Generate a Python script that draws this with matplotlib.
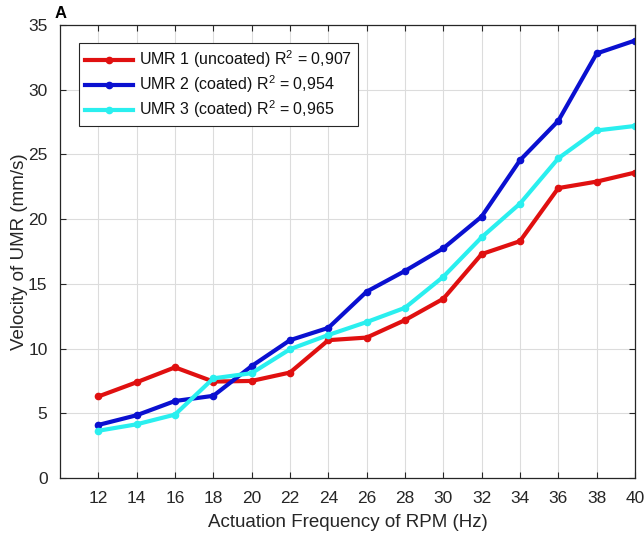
import matplotlib
matplotlib.use("Agg")
import matplotlib.pyplot as plt

freq = [12, 14, 16, 18, 20, 22, 24, 26, 28, 30, 32, 34, 36, 38, 40]
umr1 = [6.3, 7.4, 8.55, 7.45, 7.5, 8.15, 10.65, 10.85, 12.2, 13.85, 17.3, 18.3, 22.4, 22.9, 23.6]
umr2 = [4.1, 4.85, 5.95, 6.35, 8.65, 10.65, 11.6, 14.4, 16.0, 17.75, 20.2, 24.55, 27.6, 32.8, 33.8]
umr3 = [3.65, 4.15, 4.9, 7.7, 8.1, 9.95, 11.05, 12.05, 13.15, 15.55, 18.6, 21.2, 24.7, 26.85, 27.2]
labels = ["UMR 1 (uncoated) R$^2$ = 0,907",
          "UMR 2 (coated) R$^2$ = 0,954",
          "UMR 3 (coated) R$^2$ = 0,965"]
colors = ["#e01010", "#0a10d0", "#2aefef"]
xticks = list(range(12, 41, 2))
yticks = list(range(0, 36, 5))

plt.rcParams['font.family'] = ['Liberation Sans', 'DejaVu Sans']
plt.rcParams['mathtext.fontset'] = 'custom'
plt.rcParams['mathtext.rm'] = 'Liberation Sans'
plt.rcParams['mathtext.it'] = 'Liberation Sans'

fig = plt.figure(figsize=(6.44, 5.4), dpi=100)
ax = fig.add_axes([0.0932, 0.1148, 0.8928, 0.8389])
txtc = "#262626"
for y, lab, c in zip([umr1, umr2, umr3], labels, colors):
    ax.plot(freq, y, color=c, lw=3, marker='o', ms=4.5, label=lab)

ax.set_xlim(10, 40)
ax.set_ylim(0, 35)
ax.set_xticks(xticks)
ax.set_yticks(yticks)
ax.grid(True, color="#dcdcdc", lw=0.8)
ax.set_axisbelow(True)
ax.tick_params(direction='in', top=True, right=True, length=4, width=0.8,
               labelsize=12.5, colors=txtc, pad=9)
for s in ax.spines.values():
    s.set_color(txtc)
    s.set_linewidth(0.9)
ax.set_xlabel("Actuation Frequency of RPM (Hz)", fontsize=13.5, color=txtc, labelpad=6)
ax.set_ylabel("Velocity of UMR (mm/s)", fontsize=13.5, color=txtc, labelpad=0)

leg = ax.legend(loc='upper left', bbox_to_anchor=(0.033, 0.96), fontsize=11.5,
                frameon=True, fancybox=False, handlelength=3.0, handletextpad=0.4,
                borderpad=0.35, labelspacing=0.2, borderaxespad=0)
leg.get_frame().set_edgecolor(txtc)
leg.get_frame().set_linewidth(0.8)
leg.get_frame().set_alpha(1)
for t in leg.get_texts():
    t.set_color("#111111")

fig.text(55/644, 1 - 18/540, "A", fontsize=12, fontweight='bold', color='black')

fig.savefig("out.png", dpi=100)
